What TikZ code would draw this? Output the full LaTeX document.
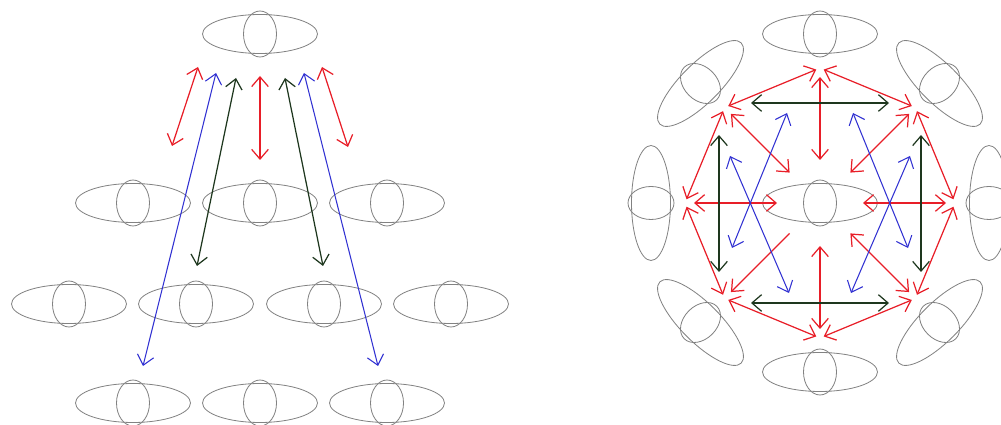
\documentclass[tikz,border=0pt]{standalone}
\usetikzlibrary{arrows.meta}
\definecolor{myred}{RGB}{232,30,40}
\definecolor{myblue}{RGB}{50,50,210}
\definecolor{mygreen}{RGB}{30,55,30}
\definecolor{mygray}{RGB}{130,130,130}
\tikzset{
  eye/.pic={
    \draw[mygray,line width=0.7pt] (0,0) ellipse [x radius=57.5, y radius=19.5];
    \draw[mygray,line width=0.7pt] (0,0) ellipse [x radius=16.5, y radius=23];
  },
  tip/.tip={Straight Barb[length=2.9mm,width=5mm]},
  both/.style={line width=1.05pt,{tip}-{tip}},
  one/.style={line width=1.05pt,-{tip}},
  redl/.style={both,myred},
  bluel/.style={both,myblue,line width=0.9pt},
  greenl/.style={both,mygreen},
}
\begin{document}
\begin{tikzpicture}[x=0.03cm,y=0.03cm]
\useasboundingbox (0,0) rectangle (1001,425);
% ---------- left part ----------
\pic at (260,391) {eye};
\foreach \x in {133,260,387} {\pic at (\x,222) {eye};}
\foreach \x in {69,196,324,451} {\pic at (\x,121) {eye};}
\foreach \x in {133,260,387} {\pic at (\x,22) {eye};}
\coordinate (rl1) at (198,358); \coordinate (rl2) at (172,279);
\coordinate (bl1) at (216,352); \coordinate (bl2) at (143,59);
\coordinate (gl1) at (236,347); \coordinate (gl2) at (197,159);
\coordinate (rm1) at (260,349); \coordinate (rm2) at (260,265);
\coordinate (gr1) at (285,347); \coordinate (gr2) at (323,159);
\coordinate (br1) at (304,352); \coordinate (br2) at (378,59);
\coordinate (rr1) at (322,358); \coordinate (rr2) at (348,278);
\draw[redl] (rl1) -- (rl2);
\draw[bluel] (bl1) -- (bl2);
\draw[greenl] (gl1) -- (gl2);
\draw[redl] (rm1) -- (rm2);
\draw[greenl] (gr1) -- (gr2);
\draw[bluel] (br1) -- (br2);
\draw[redl] (rr1) -- (rr2);
% ---------- right part ----------
\begin{scope}[shift={(820,222)}]
  \pic at (0,0) {eye};
  \foreach \k in {0,...,7} {
    \pgfmathsetmacro\a{45*\k}
    \pic[rotate=\a-90] at (\a:169) {eye};
    \coordinate (V\k) at (\a:135);
    \coordinate (I\k) at (\a:43);
    \coordinate (O\k) at (\a:126);
  }
  \foreach \k in {0,...,7} {
    \pgfmathtruncatemacro\n{mod(\k+1,8)}
    \draw[redl,shorten <=1.2mm,shorten >=1.2mm] (V\k) -- (V\n);
  }
  \foreach \k in {0,1,2,3,4,6,7} {
    \draw[redl] (I\k) -- (O\k);
  }
  \draw[one,myred] (I5) -- (O5);
  % green
  \coordinate (gt1) at (-69,100); \coordinate (gt2) at (69,100);
  \coordinate (gb1) at (-69,-100); \coordinate (gb2) at (69,-100);
  \coordinate (gL1) at (-101,68); \coordinate (gL2) at (-101,-69);
  \coordinate (gR1) at (101,68); \coordinate (gR2) at (101,-69);
  \draw[greenl] (gt1) -- (gt2);
  \draw[greenl] (gb1) -- (gb2);
  \draw[greenl] (gL1) -- (gL2);
  \draw[greenl] (gR1) -- (gR2);
  % blue
  \coordinate (b1a) at (-33,90); \coordinate (b1b) at (-88,-45);
  \coordinate (b2a) at (-90,47); \coordinate (b2b) at (-31,-90);
  \coordinate (b3a) at (33,90); \coordinate (b3b) at (88,-45);
  \coordinate (b4a) at (90,47); \coordinate (b4b) at (31,-90);
  \draw[bluel] (b1a) -- (b1b);
  \draw[bluel] (b2a) -- (b2b);
  \draw[bluel] (b3a) -- (b3b);
  \draw[bluel] (b4a) -- (b4b);
\end{scope}
\end{tikzpicture}
\end{document}
